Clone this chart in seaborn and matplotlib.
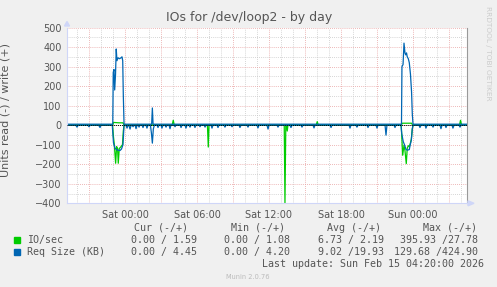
import matplotlib
matplotlib.use("Agg")
import matplotlib.pyplot as plt
from matplotlib.patches import Rectangle, Polygon
import numpy as np
import seaborn as sns

# ---------------- data (hours relative to Sat 00:00) ----------------
x_ticks = [0, 6, 12, 18, 24]
x_tick_labels = ["Sat 00:00", "Sat 06:00", "Sat 12:00", "Sat 18:00", "Sun 00:00"]
y_ticks = [-400, -300, -200, -100, 0, 100, 200, 300, 400, 500]

# IO/sec read (drawn negative)
io_read_pts = [(-4.83, 0), (-1.04, 0), (-0.96, 60), (-0.89, 100), (-0.78, 195), (-0.70, 110),
               (-0.62, 120), (-0.56, 195), (-0.48, 120), (-0.33, 110), (-0.21, 100), (-0.14, 30),
               (-0.08, 0), (0.5, 2), (1.0, 0), (6.87, 0), (6.94, 112), (7.0, 0), (13.27, 0),
               (13.33, 398), (13.40, 0), (13.46, 0), (13.52, 30), (13.58, 0), (23.02, 0),
               (23.14, 154), (23.25, 103), (23.33, 130), (23.44, 197), (23.52, 118), (23.61, 105),
               (23.69, 110), (23.77, 95), (23.86, 72), (23.94, 20), (24.0, 0), (28.5, 0)]
# IO/sec write
io_write_pts = [(-4.83, 1.5), (-1.02, 1.5), (-0.96, 14), (-0.5, 12), (-0.17, 12), (-0.08, 1.5),
                (3.94, 1.5), (4.02, 25), (4.10, 1.5), (15.94, 1.5), (16.02, 18), (16.10, 1.5),
                (23.04, 1.5), (23.10, 10), (23.88, 10), (23.96, 1.5), (27.88, 1.5), (27.96, 25),
                (28.04, 1.5), (28.5, 1.5)]
# Req Size read (drawn negative)
req_read_pts = [(-4.83, 0), (-4.1, 0), (-4.0, 10), (-3.9, 0), (-3.1, 0), (-3.0, 8), (-2.9, 0),
                (-2.2, 0), (-2.08, 12), (-2.0, 0), (-1.06, 0), (-0.96, 90), (-0.83, 118),
                (-0.71, 125), (-0.58, 128), (-0.42, 130), (-0.29, 122), (-0.17, 100), (-0.08, 0),
                (0.08, 0), (0.17, 15), (0.25, 0), (0.33, 2), (0.42, 20), (0.5, 2), (0.6, 0),
                (0.67, 8), (0.75, 0), (0.85, 2), (0.92, 18), (1.0, 0), (1.1, 0), (1.17, 10),
                (1.25, 0), (1.42, 0), (1.5, 12), (1.58, 0), (1.75, 0), (1.83, 15), (1.92, 0),
                (2.12, 0), (2.2, 40), (2.28, 92), (2.36, 20), (2.45, 0), (2.67, 0), (2.75, 12),
                (2.83, 0), (3.0, 0), (3.08, 15), (3.17, 0), (3.33, 0), (3.42, 10), (3.5, 0),
                (3.67, 0), (3.75, 18), (3.83, 0), (4.1, 0), (4.17, 8), (4.25, 0), (4.6, 0),
                (4.67, 12), (4.75, 0), (5.0, 0), (5.08, 15), (5.17, 0), (5.33, 0), (5.42, 10),
                (5.5, 0), (5.75, 0), (5.83, 12), (5.92, 0), (6.17, 0), (6.25, 8), (6.33, 0),
                (6.6, 0), (6.67, 10), (6.75, 0), (7.17, 0), (7.25, 15), (7.33, 0), (7.67, 0),
                (7.75, 12), (7.83, 0), (8.25, 0), (8.33, 10), (8.42, 0), (8.83, 0), (8.92, 8),
                (9.0, 0), (9.5, 0), (9.58, 12), (9.67, 0), (10.17, 0), (10.25, 10), (10.33, 0),
                (11.0, 0), (11.08, 14), (11.17, 0), (11.83, 0), (11.92, 20), (12.0, 0),
                (12.67, 0), (12.75, 10), (12.83, 0), (13.75, 0), (13.83, 12), (13.92, 0),
                (14.67, 0), (14.75, 10), (14.83, 0), (15.67, 0), (15.75, 14), (15.83, 0),
                (17.08, 0), (17.17, 12), (17.25, 0), (18.67, 0), (18.75, 15), (18.83, 0),
                (19.25, 0), (19.33, 10), (19.42, 0), (20.17, 0), (20.25, 12), (20.33, 0),
                (20.92, 0), (21.0, 15), (21.08, 0), (21.67, 0), (21.75, 51), (21.83, 0),
                (22.42, 0), (22.5, 12), (22.58, 0), (23.0, 0), (23.06, 43), (23.19, 85),
                (23.29, 100), (23.42, 125), (23.54, 128), (23.69, 125), (23.77, 100),
                (23.86, 77), (23.94, 20), (24.0, 0), (24.5, 0), (24.58, 12), (24.67, 0),
                (25.0, 0), (25.08, 15), (25.17, 0), (25.58, 0), (25.67, 10), (25.75, 0),
                (26.25, 0), (26.33, 18), (26.42, 0), (26.67, 0), (26.75, 12), (26.83, 0),
                (27.25, 0), (27.33, 15), (27.42, 0), (27.83, 0), (27.92, 10), (28.0, 0),
                (28.5, 0)]
# Req Size write
req_write_pts = [(-4.83, 5), (-1.02, 5), (-0.98, 270), (-0.92, 285), (-0.86, 180), (-0.79, 260),
                 (-0.73, 390), (-0.67, 330), (-0.58, 345), (-0.46, 340), (-0.33, 345),
                 (-0.25, 350), (-0.19, 330), (-0.14, 150), (-0.08, 5), (2.22, 5), (2.28, 88),
                 (2.34, 5), (23.04, 5), (23.08, 300), (23.17, 310), (23.25, 420), (23.33, 370),
                 (23.39, 360), (23.46, 370), (23.52, 350), (23.61, 340), (23.69, 320),
                 (23.79, 260), (23.88, 170), (23.94, 60), (24.0, 5), (28.5, 5)]

legend_names = ["IO/sec", "Req Size (KB)"]
cur_vals = ["0.00 / 1.59", "0.00 / 4.45"]
min_vals = ["0.00 / 1.08", "0.00 / 4.20"]
avg_vals = ["6.73 / 2.19", "9.02 /19.93"]
max_vals = ["395.93 /27.78", "129.68 /424.90"]

GREEN = "#00CC00"
BLUE = "#0066B3"

# ---------------- figure ----------------
sns.set_theme(style="white")
plt.rcParams['font.family'] = ['DejaVu Sans']

W, H = 497, 287
fig = plt.figure(figsize=(W / 100, H / 100), dpi=100, facecolor="#F0F0F0")
L, R, T, B = 67, 467, 27.5, 203.3
ax = fig.add_axes([L / W, 1 - B / H, (R - L) / W, (B - T) / H])
ax.set_facecolor("white")
ax.set_xlim(-4.8333, 28.5)
ax.set_ylim(-400, 500)

# grid
maj_x = np.arange(-3, 28.1, 3)
min_x = np.arange(-4, 28.1, 1)
ax.set_xticks(maj_x)
ax.set_xticks(min_x, minor=True)
lab_map = dict(zip(x_ticks, x_tick_labels))
ax.set_xticklabels([lab_map.get(int(v), "") for v in maj_x])
ax.set_yticks(y_ticks)
ax.set_yticks(np.arange(-350, 500, 100), minor=True)
ax.grid(which="minor", color="#C8C8C8", linestyle=(0, (1, 1.5)), linewidth=0.6)
ax.grid(which="major", color="#E8A0A0", linestyle=(0, (1, 1.5)), linewidth=0.6)
ax.set_axisbelow(True)

ax.tick_params(axis="both", which="major", length=2, width=0.6, color="#E8A0A0",
               labelsize=7, labelcolor="#555555", pad=2)
ax.tick_params(axis="both", which="minor", length=2, width=0.6, color="#C8C8C8")
ax.tick_params(axis="x", which="major", pad=3)

ax.spines["top"].set_visible(False)
ax.spines["left"].set_color("#CFD6F8")
ax.spines["bottom"].set_color("#CFD6F8")
ax.spines["left"].set_linewidth(0.8)
ax.spines["bottom"].set_linewidth(0.8)
ax.spines["right"].set_color("#999999")
ax.spines["right"].set_linewidth(0.8)

# series
def draw(pts, color, sign):
    t = [p[0] for p in pts]
    v = [sign * p[1] for p in pts]
    sns.lineplot(x=t, y=v, ax=ax, color=color, linewidth=0.9, estimator=None, sort=False)

draw(io_read_pts, GREEN, -1)
draw(io_write_pts, GREEN, 1)
draw(req_read_pts, BLUE, -1)
draw(req_write_pts, BLUE, 1)
ax.axhline(0, color="black", linewidth=0.7, linestyle=(0, (1, 1)), zorder=5)

ax.set_ylabel("Units read (-) / write (+)", fontsize=8, color="#555555")
ax.yaxis.set_label_coords((10 - L) / (R - L), 0.53)

# arrows
fig.patches.append(Polygon([[64.5 / W, 1 - 26 / H], [69.5 / W, 1 - 26 / H], [67 / W, 1 - 21.5 / H]],
                           closed=True, transform=fig.transFigure, color="#CFD6F8"))
fig.patches.append(Polygon([[468 / W, 1 - 200.8 / H], [468 / W, 1 - 205.8 / H], [474 / W, 1 - 203.3 / H]],
                           closed=True, transform=fig.transFigure, color="#CFD6F8"))

# title
fig.text(249 / W, 1 - 18 / H, "IOs for /dev/loop2 - by day", ha="center", va="center",
         fontsize=9, color="#555555")
fig.text(488 / W, 1 - 53.5 / H, "RRDTOOL / TOBI OETIKER", rotation=270, ha="center", va="center",
         fontsize=5.3, color="#CCCCCC")

# legend
mono = dict(family="DejaVu Sans Mono", fontsize=7.2, color="#555555")
fy = lambda y: 1 - y / H
for x, s in zip([134, 231, 327, 423], ["Cur (-/+)", "Min (-/+)", "Avg (-/+)", "Max (-/+)"]):
    fig.text(x / W, fy(230.7), s, ha="left", va="baseline", **mono)
for i, (name, col) in enumerate(zip(legend_names, [GREEN, BLUE])):
    yb = [243.3, 255.3][i]
    fig.patches.append(Rectangle((14 / W, fy(yb)), 6 / W, 6 / H, transform=fig.transFigure,
                                 color=col))
    fig.text(27 / W, fy(yb), name, ha="left", va="baseline", **mono)
    fig.text(131 / W, fy(yb), cur_vals[i], ha="left", va="baseline", **mono)
    fig.text(224 / W, fy(yb), min_vals[i], ha="left", va="baseline", **mono)
    fig.text(318 / W, fy(yb), avg_vals[i], ha="left", va="baseline", **mono)
    fig.text(478 / W, fy(yb), max_vals[i], ha="right", va="baseline", **mono)
fig.text(262 / W, fy(266.7), "Last update: Sun Feb 15 04:20:00 2026", ha="left", va="baseline", **mono)
fig.text(248 / W, fy(279), "Munin 2.0.76", ha="center", va="baseline", fontsize=4.8, color="#BBBBBB")

fig.savefig("out.png", dpi=100, facecolor=fig.get_facecolor())
